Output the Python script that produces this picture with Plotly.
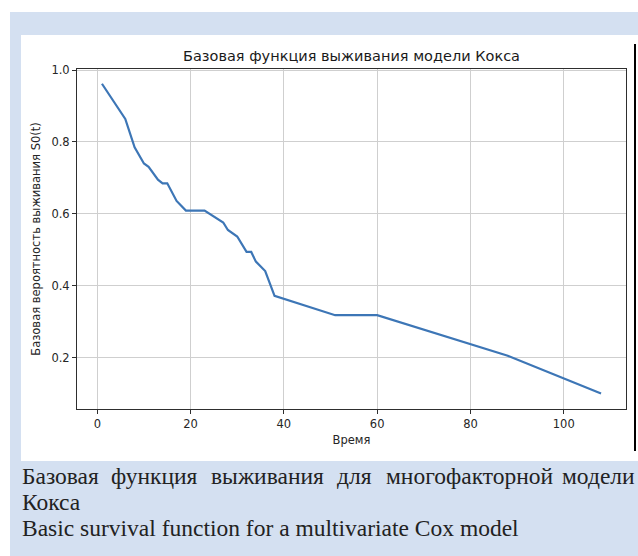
import plotly.graph_objects as go

# ---- data ----
time_vals = [1, 4, 6, 8, 10, 11, 13, 14, 15, 17, 19, 23, 27, 28, 30, 32, 33, 34, 36, 38, 51, 60, 88, 108]
surv_vals = [0.962, 0.905, 0.864, 0.785, 0.740, 0.731, 0.695, 0.685, 0.685, 0.636, 0.609, 0.609,
             0.576, 0.555, 0.537, 0.494, 0.494, 0.467, 0.441, 0.372, 0.318, 0.318, 0.205, 0.100]
x_ticks = [0, 20, 40, 60, 80, 100]
y_ticks = [0.2, 0.4, 0.6, 0.8, 1.0]

title_text = "Базовая функция выживания модели Кокса"
x_label = "Время"
y_label = "Базовая вероятность выживания S0(t)"
caption_line1 = ["Базовая", "функция", "выживания", "для", "многофакторной", "модели"]
caption_line2 = "Кокса"
caption_line3 = "Basic survival function for a multivariate Cox model"

W, H = 638, 556
L, R, T, B = 77, 626, 69, 409


def px2x(px):
    return (px - L) / (R - L)


def py2y(py):
    return (B - py) / (B - T)


fig = go.Figure()
fig.add_trace(go.Scatter(x=time_vals, y=surv_vals, mode="lines",
                         line=dict(color="#3d76b6", width=2.2), showlegend=False,
                         hoverinfo="skip"))

shapes = [
    dict(type="rect", xref="paper", yref="paper", layer="below",
         x0=px2x(10), x1=px2x(645), y0=py2y(565), y1=py2y(12),
         fillcolor="#d4e0f1", line=dict(width=0)),
    dict(type="rect", xref="paper", yref="paper", layer="below",
         x0=px2x(21), x1=px2x(645), y0=py2y(461), y1=py2y(35),
         fillcolor="white", line=dict(width=0)),
    dict(type="line", xref="paper", yref="paper",
         x0=px2x(635), x1=px2x(635), y0=py2y(451), y1=py2y(44),
         line=dict(color="black", width=2)),
]

annotations = []
cap_font = dict(family="Liberation Serif", size=23.5, color="#222222")
# justified first line: word left positions (last word right-aligned)
word_left = [20, 109, 209, 335, 384]
for w, xl in zip(caption_line1[:-1], word_left):
    annotations.append(dict(text=w, xref="paper", yref="paper", x=px2x(xl), y=py2y(476),
                            xanchor="left", yanchor="middle", showarrow=False, font=cap_font))
annotations.append(dict(text=caption_line1[-1], xref="paper", yref="paper", x=px2x(637), y=py2y(476),
                        xanchor="right", yanchor="middle", showarrow=False, font=cap_font))
annotations.append(dict(text=caption_line2, xref="paper", yref="paper", x=px2x(20), y=py2y(502),
                        xanchor="left", yanchor="middle", showarrow=False, font=cap_font))
annotations.append(dict(text=caption_line3, xref="paper", yref="paper", x=px2x(20), y=py2y(528),
                        xanchor="left", yanchor="middle", showarrow=False, font=cap_font))
# title
annotations.append(dict(text=title_text, xref="paper", yref="paper", x=0.5, y=py2y(56),
                        xanchor="center", yanchor="middle", showarrow=False,
                        font=dict(family="DejaVu Sans", size=14.5, color="#1a1a1a")))

fig.update_layout(
    width=W, height=H,
    margin=dict(l=L, r=W - R, t=T, b=H - B),
    paper_bgcolor="white", plot_bgcolor="white",
    shapes=shapes, annotations=annotations,
    font=dict(family="DejaVu Sans", size=11.5, color="#262626"),
)
axis_common = dict(showline=True, mirror=True, linecolor="#2e2e2e", linewidth=1,
                   ticks="outside", ticklen=4, tickcolor="#2e2e2e", tickwidth=1,
                   showgrid=True, gridcolor="#cfcfcf", gridwidth=1, zeroline=False,
                   tickfont=dict(family="DejaVu Sans", size=11.5, color="#262626"))
fig.update_xaxes(range=[-4.35, 113.35], tickvals=x_ticks, ticktext=[str(v) for v in x_ticks],
                 title=dict(text=x_label, standoff=6,
                            font=dict(family="DejaVu Sans", size=11.5, color="#262626")),
                 **axis_common)
fig.update_yaxes(range=[0.057, 1.003], tickvals=y_ticks, ticktext=[f"{v:.1f}" for v in y_ticks],
                 title=dict(text=y_label, standoff=8,
                            font=dict(family="DejaVu Sans", size=11.5, color="#262626")),
                 **axis_common)

fig.write_html("out.html",
               config={"displayModeBar": False, "staticPlot": True},
               post_script="document.body.style.margin='0';"
                           "document.documentElement.style.overflow='hidden';"
                           "document.body.style.overflow='hidden';")
